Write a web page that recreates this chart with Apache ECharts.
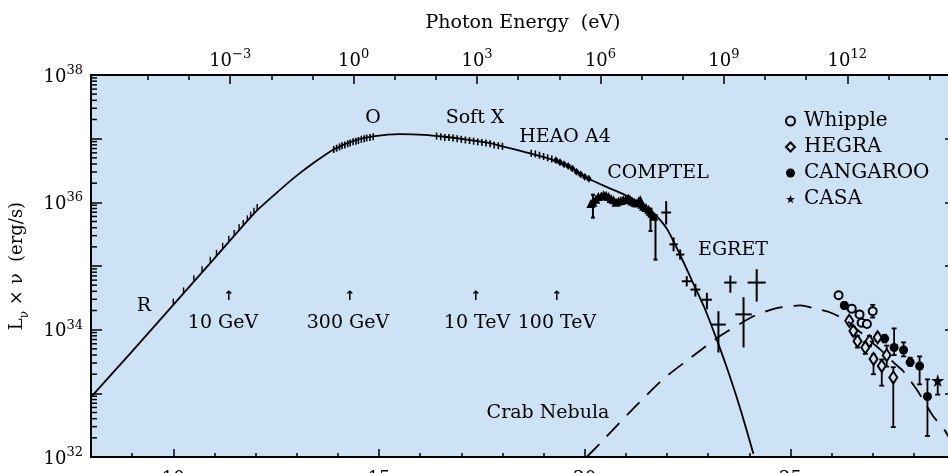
<!DOCTYPE html>
<html>
<head>
<meta charset="utf-8">
<script src="https://cdn.jsdelivr.net/npm/echarts@6/dist/echarts.min.js"></script>
<style>
  html, body { margin: 0; padding: 0; background: #fff; }
  #chart { width: 948px; height: 473px; }
</style>
</head>
<body>
<div id="chart"></div>
<script>
// log10 of frequency (Hz) and log10 of L_nu * nu (erg/s)
const FONT = 'DejaVu Serif';
const EV_OFFSET = 14.383; // log10(nu) at 1 eV

// axis ticks
const bottomMajor = [10, 15, 20, 25];
const topMajorEv = [-3, 0, 3, 6, 9, 12];
const topMinorEv = [-5, -4, -3, -2, -1, 0, 1, 2, 3, 4, 5, 6, 7, 8, 9, 10, 11, 12, 13, 14];
const logMinor = [0.301, 0.477, 0.602, 0.699, 0.778, 0.845, 0.903, 0.954];

// synchrotron model (solid)
const synchNu = [8.0, 9.0, 10.0, 11.0, 12.0, 12.6, 13.0, 13.5, 13.9, 14.4, 14.9, 15.5, 16.1, 16.6, 17.1, 17.6, 18.0, 18.6, 19.2, 19.7, 20.1, 20.5, 20.9, 21.3, 21.7, 22.0, 22.3, 22.6, 22.9, 23.2, 23.5, 23.8, 24.1];
const synchL = [32.94, 33.66, 34.39, 35.12, 35.85, 36.2, 36.42, 36.66, 36.83, 36.97, 37.04, 37.07, 37.06, 37.03, 36.99, 36.94, 36.88, 36.78, 36.67, 36.53, 36.37, 36.25, 36.14, 36.0, 35.82, 35.58, 35.2, 34.78, 34.36, 33.86, 33.32, 32.72, 32.05];

// inverse Compton model (dashed)
const icNu = [20.05, 20.5, 20.94, 21.27, 21.9, 22.64, 23.29, 24.1, 24.67, 25.24, 25.55, 25.97, 26.37, 26.89, 27.18, 27.55, 27.74, 28.1, 28.47, 28.76, 28.9];
const icL = [32.0, 32.3, 32.6, 32.82, 33.22, 33.59, 33.9, 34.21, 34.34, 34.38, 34.34, 34.27, 34.14, 33.85, 33.69, 33.46, 33.35, 33.03, 32.64, 32.41, 32.25];

// radio / IR / optical / X-ray measurements (hatched ticks)
const irNu = [10.0, 10.25, 10.5, 10.7, 10.9, 11.05, 11.2, 11.35, 11.48, 11.6, 11.7, 11.8, 11.88, 11.96, 12.04];
const irL = [34.39, 34.57, 34.76, 34.9, 35.05, 35.16, 35.27, 35.38, 35.47, 35.56, 35.63, 35.7, 35.76, 35.82, 35.88];
const optNu = [13.9, 13.97, 14.04, 14.1, 14.17, 14.24, 14.3, 14.37, 14.44, 14.5, 14.57, 14.64, 14.7, 14.78, 14.86];
const optL = [36.83, 36.85, 36.87, 36.89, 36.9, 36.92, 36.93, 36.95, 36.96, 36.97, 36.99, 37.0, 37.01, 37.02, 37.03];
const xrayNu = [16.4, 16.5, 16.6, 16.7, 16.8, 16.9, 17.0, 17.1, 17.2, 17.3, 17.4, 17.5, 17.6, 17.7, 17.8, 17.9, 18.0];
const xrayL = [37.04, 37.03, 37.02, 37.02, 37.01, 37.0, 36.99, 36.98, 36.97, 36.96, 36.95, 36.94, 36.93, 36.92, 36.9, 36.89, 36.88];
const heaoNu = [18.7, 18.8, 18.9, 19.0, 19.1, 19.2, 19.3, 19.4, 19.5, 19.6, 19.7, 19.8, 19.9, 20.0, 20.1];
const heaoL = [36.77, 36.76, 36.74, 36.72, 36.7, 36.68, 36.66, 36.63, 36.6, 36.57, 36.53, 36.48, 36.44, 36.4, 36.37];

// COMPTEL
const comptelNu = [20.15, 20.2, 20.27, 20.33, 20.4, 20.46, 20.52, 20.58, 20.64, 20.7, 20.76, 20.82, 20.88, 20.94, 21.0, 21.06, 21.1, 21.15, 21.21, 21.27, 21.31, 21.35, 21.39, 21.43, 21.49, 21.55, 21.59, 21.63, 21.68];
const comptelL = [35.98, 36.0, 36.05, 36.09, 36.1, 36.12, 36.11, 36.09, 36.06, 36.04, 36.0, 36.02, 36.03, 36.04, 36.05, 36.07, 36.05, 36.02, 36.0, 35.99, 36.02, 36.04, 35.97, 35.94, 35.92, 35.89, 35.86, 35.83, 35.78];
const comptelErrNu = [20.2, 21.6, 21.72];
const comptelErrLo = [35.76, 35.55, 35.1];
const comptelErrHi = [36.12, 35.9, 35.8];

// EGRET crosses
const egretNu = [21.98, 22.16, 22.32, 22.48, 22.69, 22.97, 23.25, 23.54, 23.86, 24.18];
const egretL = [35.84, 35.34, 35.18, 34.76, 34.63, 34.47, 34.08, 34.74, 34.24, 34.74];
const egretLo = [35.65, 35.23, 35.1, 34.68, 34.52, 34.32, 33.64, 34.58, 33.72, 34.44];
const egretHi = [36.02, 35.45, 35.26, 34.84, 34.72, 34.58, 34.29, 34.85, 34.51, 34.95];
const egretDx = [0.12, 0.1, 0.1, 0.12, 0.12, 0.12, 0.18, 0.15, 0.2, 0.22];

// TeV instruments
const whippleNu = [26.17, 26.49, 26.68, 26.73, 26.86, 27.0];
const whippleL = [34.54, 34.33, 34.24, 34.11, 34.09, 34.29];
const whippleLo = [34.5, 34.29, 34.2, 34.07, 34.05, 34.19];
const whippleHi = [34.58, 34.37, 34.28, 34.15, 34.13, 34.39];

const hegraNu = [26.43, 26.53, 26.63, 26.82, 26.92, 27.12, 27.02, 27.22, 27.34, 27.5];
const hegraL = [34.14, 33.98, 33.82, 33.72, 33.82, 33.88, 33.54, 33.43, 33.6, 33.25];
const hegraLo = [34.08, 33.92, 33.72, 33.62, 33.74, 33.82, 33.3, 33.12, 33.42, 32.47];
const hegraHi = [34.2, 34.04, 33.9, 33.8, 33.9, 33.94, 33.61, 33.53, 33.75, 33.41];

const cangarooNu = [26.31, 27.29, 27.52, 27.75, 27.91, 28.14, 28.33];
const cangarooL = [34.38, 33.86, 33.72, 33.68, 33.49, 33.43, 32.95];
const cangarooLo = [34.33, 33.8, 33.6, 33.58, 33.43, 33.14, 32.33];
const cangarooHi = [34.43, 33.92, 34.02, 33.8, 33.56, 33.58, 33.22];

const casaNu = [28.58];
const casaL = [33.2];
const casaLo = [32.98];
const casaHi = [33.2];

const pairs = (xs, ys) => xs.map((x, i) => [x, ys[i]]);
const BG = '#cde2f4';
const STAR = 'path://M50,0 L61,35 L98,35 L68,57 L79,91 L50,70 L21,91 L32,57 L2,35 L39,35 Z';

function errorBar(cap, width) {
  return function (params, api) {
    const x = api.value(0), y = api.value(1);
    const lo = api.coord([x, api.value(2)]);
    const hi = api.coord([x, api.value(3)]);
    const st = { stroke: '#000', lineWidth: width };
    const children = [{ type: 'line', shape: { x1: lo[0], y1: lo[1], x2: hi[0], y2: hi[1] }, style: st }];
    if (cap) {
      children.push({ type: 'line', shape: { x1: lo[0] - cap, y1: lo[1], x2: lo[0] + cap, y2: lo[1] }, style: st });
      children.push({ type: 'line', shape: { x1: hi[0] - cap, y1: hi[1], x2: hi[0] + cap, y2: hi[1] }, style: st });
    }
    const dx = api.value(4);
    if (!isNaN(dx)) {
      const a = api.coord([x - dx, y]);
      const b = api.coord([x + dx, y]);
      children.push({ type: 'line', shape: { x1: a[0], y1: a[1], x2: b[0], y2: b[1] }, style: st });
    }
    return { type: 'group', children };
  };
}

function sup(v) {
  const s = v < 0 ? '\u2212' + (-v) : String(v);
  return '{b|10}{s|' + s + '}';
}
const labelRich = {
  b: { fontFamily: FONT, fontSize: 18, color: '#000', lineHeight: 22, verticalAlign: 'bottom' },
  s: { fontFamily: FONT, fontSize: 13, color: '#000', lineHeight: 13, verticalAlign: 'top' }
};

const yMinorTicks = [];
for (let n = 32; n < 38; n++) logMinor.forEach(f => yMinorTicks.push([n + f]));

const chart = echarts.init(document.getElementById('chart'));

const axisLine = { show: true, lineStyle: { color: '#000', width: 2 } };
const tickStyle = { color: '#000', width: 1.5 };
const solid = { color: '#000', opacity: 1 };

const textEl = (x, y, t, size) => ({
  type: 'text', x, y, silent: true,
  style: { text: t, fill: '#000', font: (size || 19) + 'px "' + FONT + '"', align: 'center', verticalAlign: 'middle' }
});
const arrowEl = (x) => ({
  type: 'text', x, y: 297, silent: true,
  style: { text: '\u2191', fill: '#000', font: 'bold 13px "DejaVu Sans"', align: 'center', verticalAlign: 'middle' }
});

chart.setOption({
  animation: false,
  backgroundColor: '#fff',
  grid: {
    left: 91, right: -7, top: 75, bottom: 16,
    show: true, backgroundColor: BG, borderWidth: 0,
    containLabel: false, outerBoundsMode: 'none'
  },
  legend: {
    orient: 'vertical', left: 780, top: 106,
    itemWidth: 9, itemHeight: 9, itemGap: 6,
    selectedMode: false,
    textStyle: { fontFamily: FONT, fontSize: 20, color: '#000', padding: [0, 0, 0, 4] },
    data: ['Whipple', 'HEGRA', 'CANGAROO', 'CASA']
  },
  xAxis: [
    {
      type: 'value', position: 'bottom', min: 8, max: 29,
      axisLine,
      axisTick: { inside: true, length: 8, lineStyle: tickStyle, customValues: bottomMajor },
      axisLabel: { customValues: bottomMajor, margin: 13, fontFamily: FONT, fontSize: 18, color: '#000' },
      splitLine: { show: false }
    },
    {
      type: 'value', position: 'bottom', min: 8, max: 29, interval: 1,
      axisLine: { show: false },
      axisTick: { inside: true, length: 4, lineStyle: tickStyle },
      axisLabel: { show: false }, splitLine: { show: false }
    },
    {
      type: 'value', position: 'top', min: 8, max: 29,
      axisLine,
      axisTick: { inside: true, length: 9, lineStyle: tickStyle, customValues: topMajorEv.map(e => e + EV_OFFSET) },
      axisLabel: {
        customValues: topMajorEv.map(e => e + EV_OFFSET), margin: 5,
        formatter: v => sup(Math.round(v - EV_OFFSET)), rich: labelRich
      },
      name: 'Photon Energy  (eV)', nameLocation: 'middle', nameGap: 42,
      nameTextStyle: { fontFamily: FONT, fontSize: 19, color: '#000' },
      splitLine: { show: false }
    },
    {
      type: 'value', position: 'top', min: 8, max: 29,
      axisLine: { show: false },
      axisTick: { inside: true, length: 5, lineStyle: tickStyle, customValues: topMinorEv.map(e => e + EV_OFFSET) },
      axisLabel: { show: false }, splitLine: { show: false }
    }
  ],
  yAxis: [
    {
      type: 'value', position: 'left', min: 32, max: 38, interval: 1,
      axisLine,
      axisTick: { inside: true, length: 11, lineStyle: tickStyle },
      axisLabel: { margin: 8, formatter: v => (v % 2 === 0 ? sup(v) : ''), rich: labelRich },
      name: '{m|L}{sub|\u03bd}{m| \u00d7 \u03bd  (erg/s)}',
      nameLocation: 'middle', nameRotate: 90, nameGap: 60,
      nameTextStyle: {
        rich: {
          m: { fontFamily: FONT, fontSize: 18, color: '#000', lineHeight: 23, verticalAlign: 'top' },
          sub: { fontFamily: FONT, fontSize: 12, color: '#000', lineHeight: 12, verticalAlign: 'bottom' }
        }
      },
      splitLine: { show: false }
    },
    {
      type: 'value', position: 'right', min: 32, max: 38, interval: 1,
      axisLine,
      axisTick: { inside: true, length: 10, lineStyle: tickStyle },
      axisLabel: { show: false }, splitLine: { show: false }
    }
  ],
  graphic: [
    textEl(373, 118, 'O'), textEl(475, 118, 'Soft X'), textEl(565, 137, 'HEAO A4'),
    textEl(658, 173, 'COMPTEL'), textEl(733, 250, 'EGRET'), textEl(144, 306, 'R'),
    textEl(223, 323, '10 GeV'), textEl(348, 323, '300 GeV'), textEl(477, 323, '10 TeV'),
    textEl(557, 323, '100 TeV'), textEl(548, 413, 'Crab Nebula'),
    arrowEl(229), arrowEl(350), arrowEl(476), arrowEl(557)
  ],
  series: [
    {
      type: 'custom', name: 'minor', silent: true, clip: false,
      data: yMinorTicks,
      renderItem: (params, api) => {
        const p = api.coord([8, api.value(0)]);
        return { type: 'line', shape: { x1: p[0], y1: p[1], x2: p[0] + 6, y2: p[1] }, style: { stroke: '#000', lineWidth: 1.5 } };
      }
    },
    {
      type: 'line', name: 'synchrotron', data: pairs(synchNu, synchL),
      showSymbol: false, smooth: 0.2, silent: true,
      lineStyle: { color: '#000', width: 1.8 }
    },
    {
      type: 'line', name: 'inverse Compton', data: pairs(icNu, icL),
      showSymbol: false, smooth: 0.2, silent: true,
      lineStyle: { color: '#000', width: 1.8, type: [18, 11] }
    },
    {
      type: 'scatter', name: 'radio', silent: true,
      data: pairs(irNu, irL), symbol: 'rect', symbolSize: [1.4, 6], symbolOffset: [0, -3],
      itemStyle: solid
    },
    {
      type: 'scatter', name: 'optical', silent: true,
      data: pairs(optNu, optL).concat(pairs(xrayNu, xrayL), pairs(heaoNu, heaoL)),
      symbol: 'rect', symbolSize: [1.6, 7], itemStyle: solid
    },
    {
      type: 'scatter', name: 'heao dots', silent: true,
      data: pairs(heaoNu, heaoL).slice(6), symbol: 'circle', symbolSize: 5,
      itemStyle: solid
    },
    {
      type: 'custom', name: 'comptel err', silent: true,
      data: comptelErrNu.map((x, i) => [x, comptelErrLo[i] + (comptelErrHi[i] - comptelErrLo[i]) / 2, comptelErrLo[i], comptelErrHi[i]]),
      renderItem: errorBar(2, 2)
    },
    {
      type: 'scatter', name: 'COMPTEL', silent: true,
      data: pairs(comptelNu, comptelL), symbol: 'triangle', symbolSize: 9,
      itemStyle: solid
    },
    {
      type: 'custom', name: 'EGRET', silent: true,
      data: egretNu.map((x, i) => [x, egretL[i], egretLo[i], egretHi[i], egretDx[i]]),
      renderItem: errorBar(0, 2)
    },
    {
      type: 'custom', name: 'tev err', silent: true,
      data: [].concat(
        whippleNu.map((x, i) => [x, whippleL[i], whippleLo[i], whippleHi[i]]),
        hegraNu.map((x, i) => [x, hegraL[i], hegraLo[i], hegraHi[i]]),
        cangarooNu.map((x, i) => [x, cangarooL[i], cangarooLo[i], cangarooHi[i]]),
        casaNu.map((x, i) => [x, casaL[i], casaLo[i], casaHi[i]])
      ),
      renderItem: errorBar(2.5, 1.8)
    },
    {
      type: 'scatter', name: 'Whipple', data: pairs(whippleNu, whippleL),
      symbol: 'circle', symbolSize: 8,
      itemStyle: { color: BG, borderColor: '#000', borderWidth: 2, opacity: 1 }
    },
    {
      type: 'scatter', name: 'HEGRA', data: pairs(hegraNu, hegraL),
      symbol: 'diamond', symbolSize: [8, 12],
      itemStyle: { color: BG, borderColor: '#000', borderWidth: 2, opacity: 1 }
    },
    {
      type: 'scatter', name: 'CANGAROO', data: pairs(cangarooNu, cangarooL),
      symbol: 'circle', symbolSize: 9,
      itemStyle: solid
    },
    {
      type: 'scatter', name: 'CASA', data: pairs(casaNu, casaL),
      symbol: STAR, symbolSize: 13,
      itemStyle: solid
    }
  ]
});
</script>
</body>
</html>
